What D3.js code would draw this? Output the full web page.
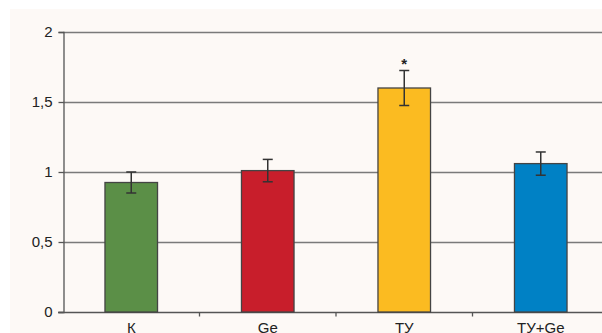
<!DOCTYPE html>
<html>
<head>
<meta charset="utf-8">
<script src="https://cdn.jsdelivr.net/npm/d3@7"></script>
<style>
  html, body { margin: 0; padding: 0; background: #ffffff; }
  svg { display: block; font-family: "Liberation Sans", Arial, sans-serif; }
</style>
</head>
<body>
<svg id="chart" width="602" height="333"></svg>
<script>
// Groups, means and error margins
const categories = ["К", "Ge", "ТУ", "ТУ+Ge"];
const values = [0.925, 1.01, 1.6, 1.06];
const errors = [0.075, 0.08, 0.125, 0.083];
const marks = ["", "", "*", ""];
const colors = ["#5b8f47", "#c81e2b", "#fbbb21", "#0081c5"];
const yTicks = [0, 0.5, 1, 1.5, 2];
const yTickLabels = ["0", "0,5", "1", "1,5", "2"];

const svg = d3.select("#chart");
const margin = { left: 63, top: 32, right: -7, bottom: 21 };
const W = 602, H = 333;

// Panel background
svg.append("rect")
  .attr("x", 10).attr("y", 9)
  .attr("width", W - 10).attr("height", H - 9)
  .attr("fill", "#fdf9f6");

const x = d3.scaleBand()
  .domain(categories)
  .range([margin.left, W - margin.right])
  .paddingInner(0.615).paddingOuter(0.3075);

const y = d3.scaleLinear()
  .domain([0, 2])
  .range([H - margin.bottom, margin.top]);

// Horizontal gridlines
svg.append("g")
  .selectAll("line")
  .data(yTicks.filter(d => d > 0))
  .join("line")
  .attr("x1", margin.left).attr("x2", W)
  .attr("y1", d => Math.round(y(d)) + 0.5)
  .attr("y2", d => Math.round(y(d)) + 0.5)
  .attr("stroke", "#7a7a7a").attr("stroke-width", 1.4);

// Y axis
const yAxis = d3.axisLeft(y)
  .tickValues(yTicks)
  .tickFormat((d, i) => yTickLabels[i])
  .tickSize(5).tickPadding(6);
const gy = svg.append("g")
  .attr("transform", `translate(${margin.left + 0.5},0)`)
  .call(yAxis);
gy.select(".domain").attr("stroke", "#555").attr("stroke-width", 1.3);
gy.selectAll(".tick line").attr("stroke", "#555").attr("stroke-width", 1.3);
gy.selectAll(".tick text")
  .attr("fill", "#222").attr("font-size", 15)
  .attr("font-family", "Liberation Sans, Arial, sans-serif");

// X axis with ticks between groups
const xAxisG = svg.append("g")
  .attr("transform", `translate(0,${Math.round(y(0)) + 0.5})`);
xAxisG.append("line")
  .attr("x1", margin.left - 5).attr("x2", W)
  .attr("stroke", "#555").attr("stroke-width", 1.3);
const step = x.step();
const bounds = categories.slice(1).map(c => x(c) - x.paddingInner() * step / 2);
xAxisG.selectAll("line.sep")
  .data(bounds)
  .join("line")
  .attr("class", "sep")
  .attr("x1", d => d).attr("x2", d => d)
  .attr("y1", 0).attr("y2", 4)
  .attr("stroke", "#555").attr("stroke-width", 1.3);
xAxisG.selectAll("text")
  .data(categories)
  .join("text")
  .attr("x", d => x(d) + x.bandwidth() / 2)
  .attr("y", 20)
  .attr("text-anchor", "middle")
  .attr("font-size", 15)
  .attr("fill", "#222")
  .text(d => d);

// Bars
svg.append("g")
  .selectAll("rect")
  .data(categories)
  .join("rect")
  .attr("x", d => x(d))
  .attr("y", (d, i) => y(values[i]))
  .attr("width", x.bandwidth())
  .attr("height", (d, i) => y(0) - y(values[i]))
  .attr("fill", (d, i) => colors[i])
  .attr("stroke", "#444").attr("stroke-width", 1.3);

// Error bars
const eb = svg.append("g").attr("stroke", "#333").attr("stroke-width", 1.5);
categories.forEach((c, i) => {
  const cx = x(c) + x.bandwidth() / 2;
  const top = y(values[i] + errors[i]);
  const bot = y(values[i] - errors[i]);
  eb.append("line").attr("x1", cx).attr("x2", cx).attr("y1", top).attr("y2", bot);
  eb.append("line").attr("x1", cx - 5).attr("x2", cx + 5).attr("y1", top).attr("y2", top);
  eb.append("line").attr("x1", cx - 5).attr("x2", cx + 5).attr("y1", bot).attr("y2", bot);
});

// Significance marks
svg.append("g")
  .selectAll("text")
  .data(categories)
  .join("text")
  .attr("x", d => x(d) + x.bandwidth() / 2)
  .attr("y", (d, i) => y(values[i] + errors[i]) - 2)
  .attr("text-anchor", "middle")
  .attr("font-size", 15)
  .attr("font-weight", "bold")
  .attr("fill", "#222")
  .text((d, i) => marks[i]);
</script>
</body>
</html>
